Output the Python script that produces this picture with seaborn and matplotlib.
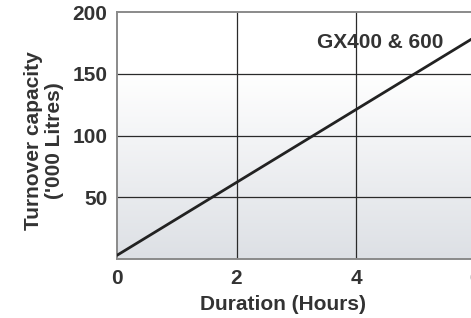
import numpy as np
import pandas as pd
import matplotlib
matplotlib.use("Agg")
import matplotlib.pyplot as plt
import seaborn as sns
from matplotlib.colors import LinearSegmentedColormap

# Data
hours = [0, 6]
capacity = [3, 180]
x_ticks = [0, 2, 4, 6]
y_ticks = [50, 100, 150, 200]
series_label = "GX400 & 600"
x_label = "Duration (Hours)"
y_label = "Turnover capacity\n('000 Litres)"

sns.set_theme(style="white")
plt.rcParams['font.family'] = ['Liberation Sans', 'DejaVu Sans']

W, H = 471, 318
fig = plt.figure(figsize=(W / 100, H / 100), dpi=100)
ax = fig.add_axes([117 / W, 59 / H, (475.5 - 117) / W, 247 / H])

# gradient background
grad = np.linspace(0, 1, 256).reshape(-1, 1)
cmap = LinearSegmentedColormap.from_list("bg", [(0, "#dde0e5"), (0.75, "#ffffff"), (1, "#ffffff")])
ax.imshow(grad, extent=[0, 6, 0, 200], origin="lower", aspect="auto", cmap=cmap, zorder=0)

df = pd.DataFrame({"hours": hours, "capacity": capacity})
sns.lineplot(data=df, x="hours", y="capacity", ax=ax, color="#222222", linewidth=2.0, zorder=3)

ax.set_xlim(0, 6)
ax.set_ylim(0, 200)
ax.set_xticks(x_ticks)
ax.set_yticks(y_ticks)
ax.set_xticklabels([str(v) for v in x_ticks])
ax.set_yticklabels([str(v) for v in y_ticks])
ax.tick_params(length=0, labelsize=15, labelcolor="#333333", pad=7)
for lbl in ax.get_xticklabels() + ax.get_yticklabels():
    lbl.set_fontweight("bold")

for v in [2, 4]:
    ax.axvline(v, color="#2a2a2a", linewidth=0.9, zorder=2)
for v in [50, 100, 150]:
    ax.axhline(v, color="#2a2a2a", linewidth=0.9, zorder=2)

for s in ax.spines.values():
    s.set_color("#8a8a8a")
    s.set_linewidth(1.4)
    s.set_visible(True)

ax.set_xlabel("")
ax.set_ylabel("")
ax.grid(False)

ax.text(4.4, 175, series_label, ha="center", va="center", fontsize=15,
        fontweight="bold", color="#333333", zorder=4)

fig.text(283.5 / W, 1 - 304 / H, x_label, ha="center", va="center", fontsize=15,
         fontweight="bold", color="#333333")
fig.text(44 / W, 1 - 141 / H, y_label, ha="center", va="center", fontsize=15,
         fontweight="bold", color="#333333", rotation=90, multialignment="center",
         linespacing=1.1)

fig.savefig("out.png", dpi=100)
